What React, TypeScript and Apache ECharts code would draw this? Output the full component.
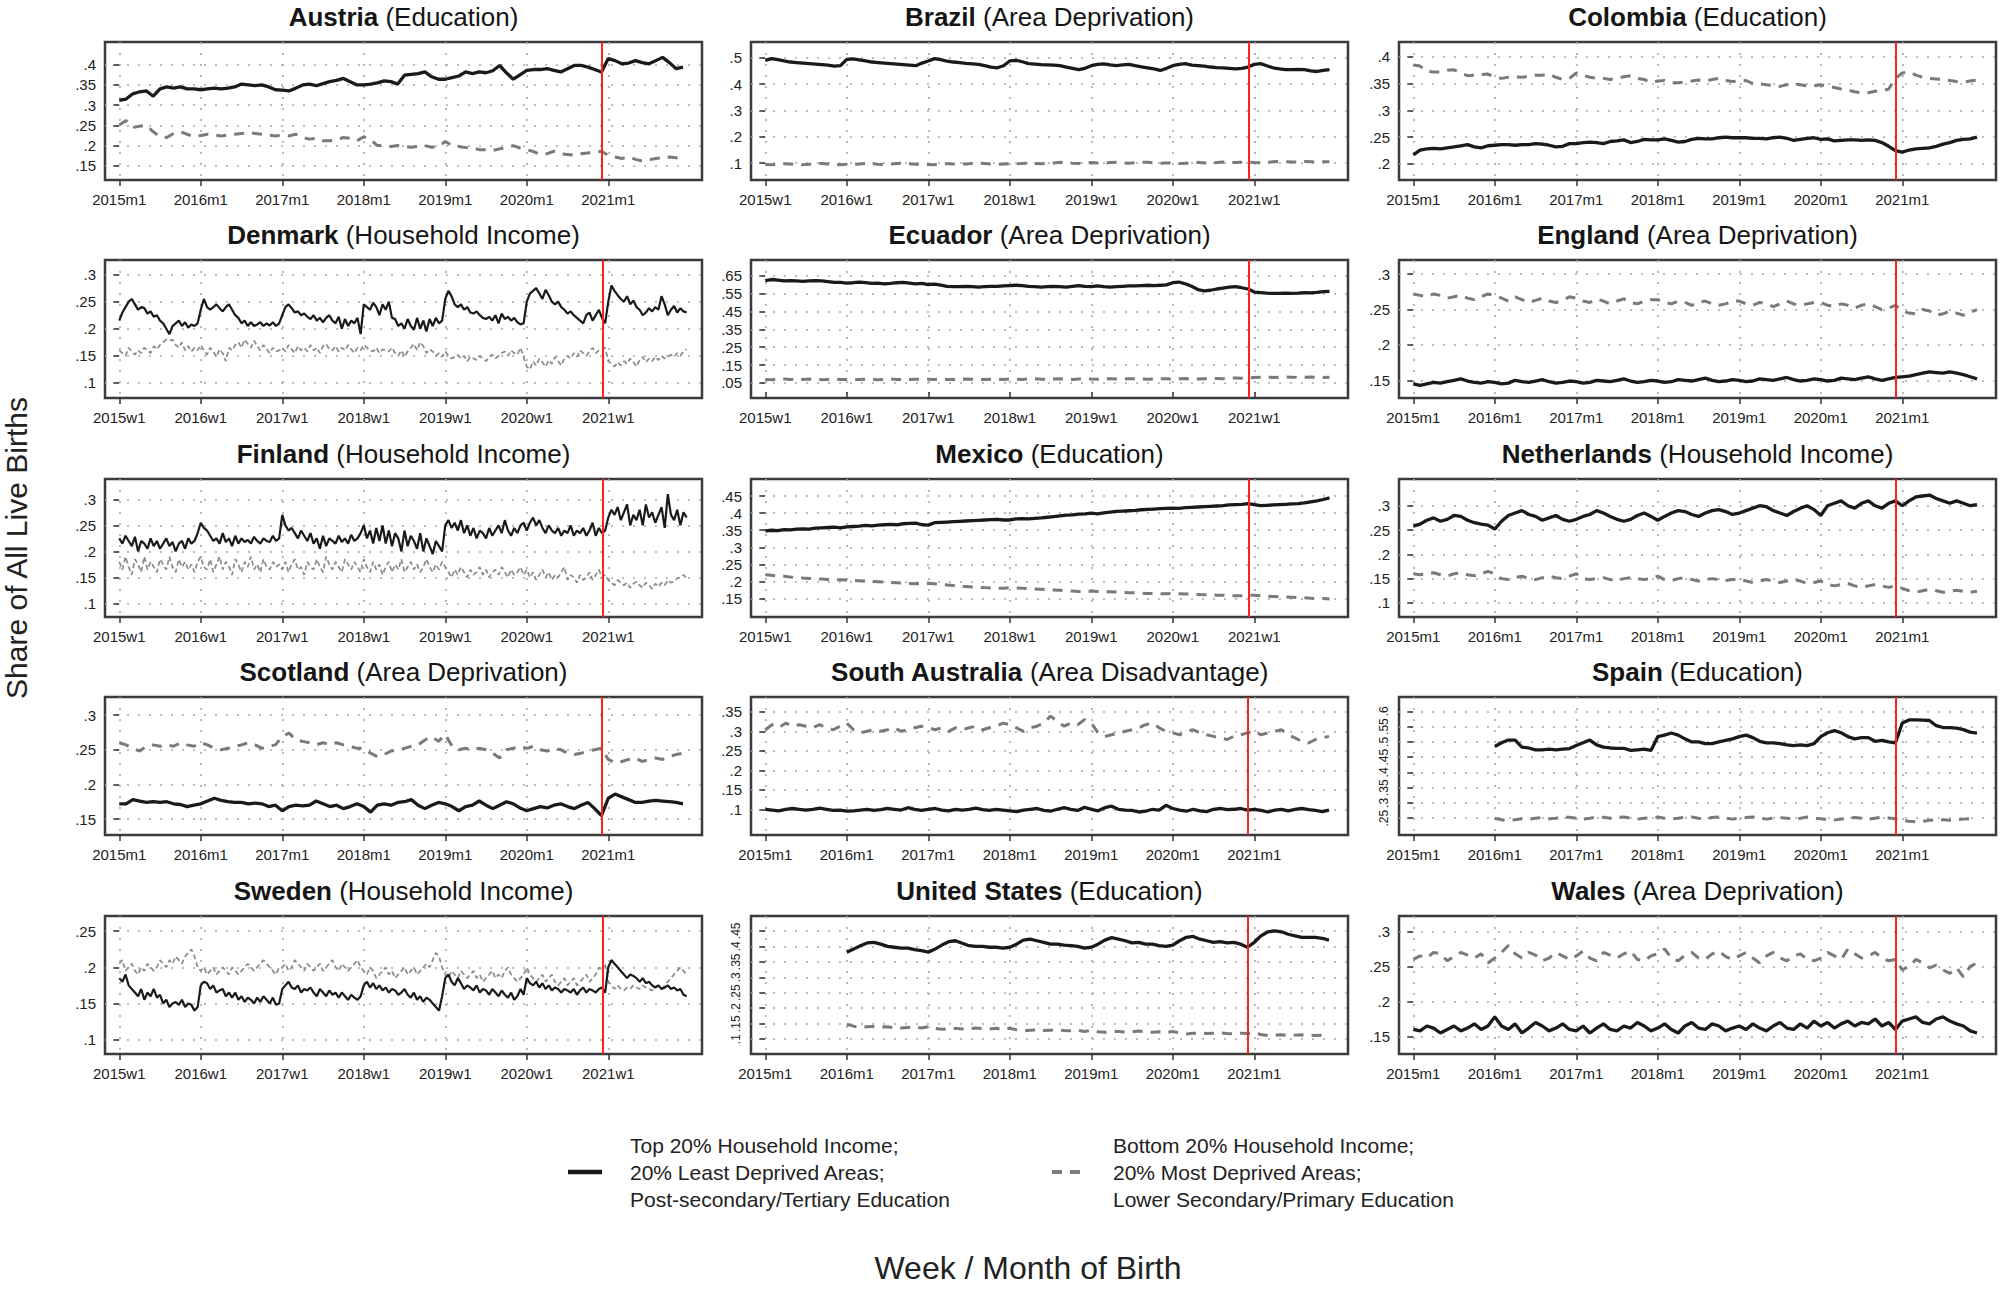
import React, { useEffect, useRef } from "react";
import * as echarts from "echarts";

const FONT = "'Liberation Sans Narrow', 'Liberation Sans', Arial, sans-serif";

// ---------- axis tick labels ----------
const MONTH_TICKS = [0, 12, 24, 36, 48, 60, 72];
const MONTH_LABELS = ["2015m1", "2016m1", "2017m1", "2018m1", "2019m1", "2020m1", "2021m1"];
const WEEK_TICKS = [0, 52, 104, 156, 208, 260, 312];
const WEEK_LABELS = ["2015w1", "2016w1", "2017w1", "2018w1", "2019w1", "2020w1", "2021w1"];

// x positions (months since 2015m1, weeks since 2015w1)
const MONTHS = Array.from({ length: 84 }, (_, i) => i);
const MONTHS_2016 = MONTHS.slice(12);
const WEEKS_4 = Array.from({ length: 91 }, (_, i) => i * 4);
const WEEKS_2 = Array.from({ length: 182 }, (_, i) => i * 2);

const RED_MONTH = 71;
const RED_WEEK = 308.5;

// ---------- series values ----------
const AUT_TOP = [
  .312,.315,.328,.333,.335,.322,.34,.345,.342,.345,.34,.34,
  .338,.34,.342,.34,.342,.345,.352,.35,.348,.35,.345,.338,
  .337,.335,.342,.35,.352,.348,.353,.358,.361,.366,.358,.35,
  .35,.352,.355,.36,.358,.352,.374,.376,.378,.382,.37,.364,
  .364,.368,.372,.382,.378,.382,.38,.385,.398,.38,.364,.375,
  .386,.388,.388,.39,.386,.382,.39,.398,.398,.394,.388,.382,
  .415,.41,.402,.404,.41,.405,.402,.41,.418,.405,.39,.394];
const AUT_BOT = [
  .251,.262,.245,.248,.25,.234,.222,.22,.23,.234,.228,.222,
  .225,.228,.226,.224,.226,.228,.23,.232,.23,.228,.226,.224,
  .226,.224,.228,.22,.216,.218,.212,.212,.214,.22,.218,.212,
  .222,.215,.2,.2,.198,.2,.198,.196,.198,.2,.196,.198,
  .21,.2,.198,.195,.194,.19,.19,.188,.192,.195,.2,.194,
  .19,.185,.178,.18,.186,.18,.178,.176,.18,.182,.184,.186,
  .176,.172,.168,.172,.166,.162,.165,.168,.17,.172,.17,.168];

const BRA_TOP = [
  .49,.497,.493,.488,.484,.482,.48,.478,.476,.474,.472,.468,.47,
  .494,.496,.492,.488,.484,.482,.48,.478,.476,.474,.472,.47,.48,
  .488,.497,.493,.487,.484,.482,.479,.477,.475,.47,.465,.462,.47,
  .488,.49,.485,.478,.476,.474,.473,.472,.47,.465,.46,.455,.46,
  .47,.475,.477,.473,.47,.473,.475,.47,.466,.462,.458,.452,.46,
  .47,.475,.478,.472,.47,.468,.465,.463,.462,.46,.458,.46,.465,
  .475,.478,.47,.462,.458,.455,.455,.456,.455,.45,.448,.452,.455];
const BRA_BOT = [
  .095,.094,.096,.098,.097,.095,.094,.096,.098,.099,.097,.095,.094,
  .096,.095,.097,.099,.098,.096,.095,.097,.099,.1,.098,.096,.095,
  .095,.094,.096,.098,.097,.096,.097,.099,.1,.099,.097,.096,.097,
  .098,.097,.099,.1,.099,.098,.099,.101,.103,.102,.1,.099,.1,
  .102,.101,.1,.102,.103,.101,.1,.102,.104,.103,.101,.1,.101,
  .1,.099,.1,.102,.103,.101,.1,.102,.104,.103,.102,.103,.104,
  .102,.101,.103,.105,.106,.105,.104,.105,.106,.105,.104,.105,.105];

const COL_TOP = [
  .217,.226,.228,.229,.228,.23,.232,.234,.236,.232,.23,.234,
  .235,.236,.236,.235,.236,.236,.238,.237,.235,.232,.233,.238,
  .238,.24,.241,.24,.238,.242,.243,.245,.24,.242,.246,.245,
  .245,.247,.244,.241,.242,.246,.248,.247,.247,.249,.25,.249,
  .249,.249,.248,.248,.247,.249,.25,.248,.244,.246,.248,.249,
  .246,.247,.243,.244,.245,.245,.244,.245,.244,.24,.233,.225,
  .222,.226,.228,.229,.23,.233,.237,.24,.244,.246,.247,.25];
const COL_BOT = [
  .385,.383,.373,.372,.372,.375,.376,.37,.365,.366,.367,.368,
  .362,.36,.362,.363,.362,.364,.366,.366,.368,.362,.358,.36,
  .37,.366,.362,.36,.36,.358,.36,.363,.365,.36,.358,.352,
  .355,.356,.352,.352,.353,.355,.357,.355,.358,.36,.356,.354,
  .355,.356,.35,.35,.348,.347,.345,.348,.35,.348,.346,.346,
  .348,.345,.343,.34,.338,.335,.333,.333,.336,.337,.34,.36,
  .37,.372,.366,.362,.36,.359,.358,.356,.354,.353,.355,.357];

const DNK_TOP = [
  .215,.23,.24,.25,.255,.245,.235,.24,.238,.228,.232,.222,.225,.215,.21,.2,.19,.205,.21,.215,.205,.212,.202,.208,.205,.21,
  .235,.255,.24,.235,.24,.245,.238,.232,.24,.245,.235,.225,.22,.21,.215,.205,.212,.205,.208,.212,.205,.21,.206,.212,.205,.21,
  .225,.24,.245,.238,.23,.232,.225,.228,.222,.218,.225,.215,.22,.212,.22,.225,.215,.21,.222,.2,.218,.205,.215,.21,.22,.19,
  .245,.24,.235,.248,.24,.225,.245,.235,.25,.22,.218,.205,.21,.2,.218,.205,.198,.22,.2,.215,.195,.218,.205,.22,.21,.215,
  .255,.27,.26,.245,.24,.245,.235,.24,.23,.228,.232,.225,.22,.218,.222,.215,.225,.21,.228,.218,.222,.215,.22,.212,.208,.21,
  .25,.265,.27,.275,.265,.255,.272,.262,.25,.245,.25,.24,.235,.228,.232,.225,.22,.215,.21,.225,.23,.215,.225,.235,.22,.21,
  .25,.28,.27,.262,.255,.25,.26,.245,.252,.24,.235,.225,.23,.238,.232,.24,.235,.26,.245,.225,.235,.242,.23,.238,.232,.23];
const DNK_BOT = [
  .16,.155,.15,.165,.158,.152,.16,.155,.165,.16,.155,.168,.162,.17,.175,.18,.178,.18,.17,.165,.175,.16,.168,.158,.165,.16,
  .17,.16,.152,.165,.158,.148,.162,.155,.14,.165,.16,.17,.175,.165,.18,.172,.165,.178,.168,.16,.17,.162,.155,.165,.158,.16,
  .165,.158,.17,.162,.155,.168,.16,.165,.158,.17,.16,.165,.155,.168,.172,.162,.16,.168,.158,.165,.16,.17,.162,.155,.165,.16,
  .17,.165,.16,.158,.165,.155,.162,.16,.158,.165,.155,.15,.16,.148,.158,.165,.172,.16,.175,.168,.155,.162,.158,.15,.155,.148,
  .158,.15,.145,.148,.152,.145,.15,.14,.148,.145,.142,.15,.145,.14,.148,.152,.145,.15,.155,.158,.15,.16,.155,.152,.165,.148,
  .13,.125,.14,.132,.145,.138,.13,.142,.135,.148,.14,.132,.145,.15,.145,.155,.148,.16,.155,.15,.158,.165,.155,.16,.162,.165,
  .14,.135,.13,.138,.132,.14,.135,.145,.138,.13,.142,.148,.138,.145,.14,.148,.142,.15,.145,.148,.152,.148,.155,.15,.158,.162];

const ECU_TOP = [
  .622,.628,.624,.62,.622,.62,.618,.62,.622,.62,.616,.612,.612,
  .608,.61,.614,.61,.606,.608,.604,.606,.61,.612,.608,.604,.606,
  .6,.602,.596,.59,.588,.588,.59,.588,.586,.588,.59,.59,.592,
  .594,.596,.594,.59,.588,.586,.588,.59,.588,.586,.59,.594,.59,
  .588,.592,.588,.586,.588,.59,.592,.592,.594,.596,.594,.596,.598,
  .61,.614,.604,.59,.572,.565,.568,.575,.58,.585,.588,.582,.575,
  .558,.555,.552,.55,.55,.552,.55,.552,.555,.553,.556,.56,.562];
const ECU_BOT = [
  .07,.068,.07,.072,.07,.068,.07,.072,.07,.068,.07,.072,.07,
  .07,.068,.07,.071,.069,.068,.07,.072,.07,.069,.07,.071,.07,
  .071,.07,.072,.07,.069,.07,.072,.071,.07,.069,.071,.072,.07,
  .072,.071,.07,.072,.073,.071,.07,.072,.073,.071,.07,.072,.073,
  .072,.071,.073,.074,.072,.071,.073,.074,.072,.071,.073,.074,.073,
  .072,.074,.075,.073,.072,.074,.076,.075,.074,.076,.078,.077,.078,
  .08,.082,.083,.081,.082,.083,.082,.081,.082,.083,.082,.081,.082];

const ENG_TOP = [
  .145,.143,.145,.147,.146,.148,.15,.152,.149,.147,.146,.148,
  .147,.145,.146,.15,.148,.147,.149,.151,.148,.146,.147,.149,
  .148,.146,.147,.15,.149,.148,.15,.152,.149,.147,.148,.15,
  .149,.147,.148,.151,.15,.149,.151,.153,.15,.148,.149,.151,
  .15,.148,.149,.152,.151,.15,.152,.154,.151,.149,.15,.152,
  .151,.149,.15,.153,.152,.151,.153,.155,.152,.15,.152,.154,
  .155,.156,.158,.16,.162,.161,.16,.162,.16,.158,.155,.152];
const ENG_BOT = [
  .272,.27,.268,.272,.27,.266,.268,.27,.266,.264,.268,.272,
  .27,.266,.262,.268,.264,.26,.263,.266,.262,.26,.263,.268,
  .266,.262,.26,.265,.262,.258,.262,.265,.26,.258,.262,.264,
  .264,.26,.258,.262,.26,.256,.26,.262,.258,.256,.258,.262,
  .262,.258,.256,.26,.258,.254,.258,.262,.258,.256,.258,.26,
  .26,.256,.254,.258,.256,.252,.256,.258,.254,.25,.252,.256,
  .248,.245,.244,.25,.248,.242,.244,.248,.245,.242,.246,.25];

const FIN_TOP = [
  .225,.215,.23,.22,.21,.228,.2,.22,.215,.205,.225,.21,.22,.205,.215,.225,.21,.218,.2,.215,.22,.205,.225,.215,.22,.235,
  .255,.245,.24,.23,.22,.225,.215,.235,.218,.225,.21,.23,.215,.225,.218,.222,.215,.228,.22,.215,.225,.22,.218,.23,.22,.225,
  .27,.25,.24,.245,.235,.225,.24,.23,.22,.235,.215,.225,.205,.23,.21,.225,.22,.215,.23,.218,.225,.215,.232,.22,.225,.235,
  .25,.225,.24,.215,.245,.22,.25,.215,.24,.21,.235,.225,.2,.24,.21,.23,.22,.205,.235,.2,.225,.21,.195,.22,.21,.2,
  .25,.26,.245,.255,.24,.26,.235,.25,.23,.245,.225,.24,.235,.225,.245,.23,.24,.25,.235,.26,.24,.23,.245,.235,.25,.255,
  .24,.255,.265,.25,.26,.245,.235,.25,.24,.235,.245,.23,.24,.235,.25,.23,.24,.235,.245,.23,.24,.255,.23,.245,.235,.24,
  .265,.28,.27,.285,.26,.275,.29,.25,.27,.26,.28,.25,.29,.265,.275,.255,.27,.285,.245,.31,.27,.26,.28,.25,.275,.265];
const FIN_BOT = [
  .18,.165,.19,.17,.155,.185,.175,.16,.19,.165,.18,.17,.16,.185,.175,.165,.19,.17,.16,.185,.17,.18,.165,.175,.16,.18,
  .19,.17,.165,.185,.16,.175,.19,.165,.18,.17,.155,.185,.175,.16,.18,.17,.19,.165,.175,.16,.185,.17,.165,.18,.17,.175,
  .165,.18,.16,.175,.185,.165,.17,.155,.18,.17,.165,.185,.17,.16,.19,.175,.165,.18,.17,.16,.185,.175,.165,.18,.17,.16,
  .185,.17,.16,.18,.165,.175,.155,.17,.18,.16,.175,.165,.185,.16,.17,.18,.165,.175,.16,.17,.185,.17,.16,.175,.165,.18,
  .17,.16,.15,.165,.155,.17,.16,.15,.165,.155,.16,.17,.155,.165,.15,.16,.165,.155,.17,.16,.15,.165,.155,.16,.17,.155,
  .165,.15,.16,.145,.155,.165,.15,.16,.145,.155,.15,.16,.17,.145,.155,.15,.14,.155,.145,.15,.16,.145,.155,.165,.15,.155,
  .145,.14,.135,.145,.14,.135,.14,.13,.138,.142,.135,.13,.14,.135,.128,.138,.132,.14,.135,.145,.14,.142,.148,.15,.155,.148];

const MEX_TOP = [
  .348,.35,.349,.352,.351,.353,.354,.353,.356,.357,.358,.359,.357,
  .36,.361,.362,.364,.363,.365,.366,.367,.366,.369,.37,.371,.366,
  .365,.372,.373,.374,.375,.376,.377,.378,.379,.38,.381,.382,.38,
  .38,.383,.384,.383,.385,.386,.388,.39,.392,.394,.395,.397,.398,
  .4,.398,.401,.403,.405,.406,.407,.408,.41,.411,.412,.413,.414,
  .415,.414,.416,.417,.418,.419,.42,.421,.422,.424,.425,.426,.428,
  .425,.422,.423,.424,.425,.426,.427,.428,.43,.433,.436,.44,.445];
const MEX_BOT = [
  .22,.218,.216,.215,.213,.212,.21,.209,.208,.207,.206,.205,.205,
  .204,.203,.202,.201,.2,.199,.198,.197,.196,.195,.194,.193,.193,
  .194,.193,.192,.19,.188,.186,.185,.184,.183,.182,.181,.18,.18,
  .182,.181,.18,.179,.178,.177,.176,.175,.174,.173,.172,.171,.171,
  .172,.171,.17,.17,.169,.168,.167,.167,.166,.165,.165,.164,.164,
  .165,.164,.163,.163,.162,.161,.161,.16,.16,.159,.158,.158,.16,
  .16,.158,.157,.156,.155,.155,.154,.153,.152,.151,.15,.15,.149];

const NLD_TOP = [
  .258,.262,.27,.275,.268,.272,.28,.278,.27,.265,.262,.26,
  .252,.268,.28,.285,.29,.282,.278,.27,.275,.28,.272,.268,
  .272,.278,.282,.29,.285,.278,.272,.268,.272,.28,.285,.278,
  .27,.278,.285,.29,.288,.282,.278,.285,.29,.292,.288,.282,
  .285,.29,.295,.3,.298,.29,.285,.28,.288,.295,.3,.292,
  .28,.3,.305,.31,.3,.295,.305,.31,.3,.295,.305,.31,
  .3,.31,.318,.32,.322,.315,.31,.305,.31,.305,.3,.302];
const NLD_BOT = [
  .16,.158,.16,.162,.158,.155,.16,.162,.158,.156,.16,.165,
  .16,.15,.148,.152,.155,.15,.148,.152,.155,.152,.15,.155,
  .16,.15,.148,.15,.152,.148,.146,.15,.152,.15,.148,.15,
  .155,.148,.146,.15,.152,.148,.145,.148,.15,.148,.146,.148,
  .15,.145,.142,.145,.148,.145,.142,.145,.148,.145,.14,.142,
  .145,.138,.135,.138,.14,.135,.132,.135,.138,.135,.132,.135,
  .13,.125,.122,.125,.128,.125,.122,.124,.126,.124,.122,.124];

const SCO_TOP = [
  .172,.172,.178,.176,.174,.175,.174,.175,.172,.171,.168,.17,
  .172,.176,.18,.177,.175,.174,.174,.172,.173,.172,.168,.17,
  .162,.168,.17,.169,.17,.176,.172,.168,.17,.165,.168,.172,
  .168,.16,.17,.172,.17,.174,.175,.178,.17,.165,.17,.174,
  .172,.168,.162,.168,.17,.176,.17,.165,.17,.175,.172,.166,
  .162,.165,.168,.166,.17,.172,.168,.165,.17,.174,.165,.155,
  .18,.186,.182,.178,.174,.174,.176,.177,.176,.175,.174,.172];
const SCO_BOT = [
  .26,.257,.252,.248,.255,.257,.255,.257,.255,.26,.257,.255,
  .26,.257,.252,.25,.252,.255,.257,.26,.257,.252,.255,.257,
  .269,.274,.264,.262,.26,.257,.26,.257,.26,.257,.255,.252,
  .252,.245,.24,.243,.248,.25,.252,.255,.257,.264,.269,.262,
  .272,.255,.25,.252,.25,.252,.25,.245,.238,.25,.252,.255,
  .252,.255,.25,.248,.252,.25,.245,.243,.245,.248,.25,.252,
  .236,.231,.233,.236,.238,.233,.236,.238,.236,.24,.243,.245];

const SAU_TOP = [
  .1,.098,.096,.1,.102,.1,.098,.1,.103,.1,.097,.098,
  .095,.096,.098,.1,.097,.099,.102,.1,.098,.104,.1,.097,
  .1,.102,.098,.096,.1,.098,.1,.103,.099,.097,.1,.098,
  .096,.094,.098,.1,.102,.097,.095,.1,.104,.1,.097,.105,
  .1,.096,.104,.108,.1,.098,.097,.093,.095,.1,.098,.11,
  .102,.098,.095,.1,.096,.094,.1,.102,.099,.1,.102,.098,
  .1,.097,.093,.098,.1,.096,.1,.102,.099,.097,.094,.098];
const SAU_BOT = [
  .304,.317,.309,.321,.313,.317,.313,.309,.317,.309,.304,.313,
  .321,.304,.296,.3,.304,.3,.304,.309,.3,.304,.309,.313,
  .309,.304,.309,.3,.309,.304,.309,.313,.304,.309,.313,.321,
  .317,.309,.3,.309,.313,.321,.339,.326,.313,.321,.317,.33,
  .321,.296,.287,.291,.296,.3,.304,.309,.317,.321,.309,.3,
  .296,.291,.3,.304,.296,.291,.287,.283,.279,.287,.291,.296,
  .3,.291,.296,.3,.304,.291,.283,.274,.27,.279,.283,.287];

const ESP_TOP = [
  .485,.497,.506,.506,.483,.48,.474,.474,.476,.474,.476,.478,
  .488,.497,.506,.49,.483,.48,.479,.479,.472,.474,.476,.472,
  .517,.522,.529,.522,.51,.5,.5,.494,.494,.5,.505,.51,
  .517,.522,.514,.502,.497,.497,.494,.49,.488,.49,.488,.494,
  .517,.53,.537,.53,.517,.51,.514,.514,.502,.505,.5,.497,
  .562,.572,.572,.571,.57,.553,.547,.547,.545,.54,.532,.529];
const ESP_BOT = [
  .25,.245,.242,.245,.248,.247,.25,.252,.248,.25,.254,.253,
  .25,.247,.25,.254,.253,.25,.252,.254,.25,.247,.25,.252,
  .254,.25,.248,.25,.253,.254,.25,.248,.252,.254,.25,.247,
  .25,.252,.254,.25,.247,.25,.252,.25,.248,.25,.254,.25,
  .248,.245,.244,.247,.25,.252,.25,.247,.25,.253,.251,.248,
  .243,.24,.238,.24,.243,.245,.245,.243,.245,.247,.248,.248];

const SWE_TOP = [
  .185,.18,.19,.175,.17,.165,.16,.17,.155,.165,.16,.17,.158,.162,.15,.155,.145,.15,.152,.148,.155,.145,.15,.148,.14,.145,
  .175,.18,.178,.17,.175,.165,.168,.17,.16,.165,.158,.165,.155,.16,.152,.158,.155,.15,.158,.152,.16,.155,.15,.158,.148,.15,
  .17,.175,.18,.172,.17,.175,.165,.17,.168,.172,.165,.16,.17,.165,.16,.168,.162,.165,.158,.165,.16,.155,.162,.158,.155,.16,
  .175,.18,.172,.178,.17,.175,.168,.172,.165,.17,.168,.162,.165,.17,.162,.158,.165,.155,.16,.152,.158,.155,.15,.145,.14,.16,
  .185,.19,.18,.175,.185,.178,.17,.175,.172,.168,.175,.165,.17,.168,.162,.17,.165,.16,.168,.162,.158,.165,.155,.16,.17,.162,
  .185,.178,.175,.18,.172,.178,.17,.175,.168,.172,.17,.165,.17,.168,.165,.17,.162,.168,.172,.165,.17,.168,.165,.17,.172,.165,
  .2,.21,.205,.2,.195,.19,.185,.19,.188,.185,.18,.185,.178,.18,.175,.172,.175,.17,.172,.175,.17,.172,.168,.17,.162,.16];
const SWE_BOT = [
  .205,.21,.195,.2,.205,.195,.19,.2,.195,.205,.2,.195,.2,.21,.205,.2,.21,.205,.215,.21,.205,.215,.22,.225,.215,.2,
  .195,.2,.19,.195,.2,.19,.195,.2,.195,.19,.2,.195,.19,.195,.2,.205,.2,.195,.2,.205,.21,.205,.2,.195,.19,.2,
  .2,.205,.195,.2,.21,.205,.2,.195,.205,.2,.195,.2,.205,.195,.2,.205,.21,.2,.195,.205,.2,.195,.2,.205,.21,.2,
  .195,.19,.2,.195,.185,.19,.195,.2,.19,.195,.185,.19,.195,.2,.19,.195,.2,.19,.195,.2,.205,.2,.21,.22,.215,.2,
  .19,.185,.195,.19,.185,.195,.19,.185,.19,.195,.185,.19,.18,.185,.19,.195,.185,.19,.185,.195,.2,.19,.185,.18,.185,.19,
  .2,.19,.185,.18,.185,.19,.18,.185,.19,.18,.175,.18,.185,.175,.18,.185,.175,.18,.185,.19,.18,.185,.19,.2,.195,.205,
  .18,.175,.17,.175,.17,.168,.172,.17,.175,.172,.17,.175,.172,.17,.168,.172,.175,.17,.175,.18,.185,.19,.195,.2,.195,.19];

const USA_TOP = [
  .381,.391,.402,.411,.413,.407,.4,.397,.394,.394,.389,.386,
  .381,.391,.404,.415,.418,.41,.402,.4,.4,.397,.397,.394,
  .397,.407,.42,.423,.418,.413,.407,.407,.404,.402,.4,.394,
  .397,.407,.42,.428,.423,.418,.411,.413,.407,.407,.402,.4,
  .404,.418,.429,.432,.423,.418,.413,.415,.411,.413,.407,.397,
  .413,.434,.447,.45,.447,.439,.434,.429,.429,.429,.426,.42];
const USA_BOT = [
  .148,.142,.138,.14,.141,.139,.14,.137,.136,.138,.14,.136,
  .14,.135,.132,.134,.135,.133,.134,.136,.134,.133,.135,.131,
  .135,.13,.127,.129,.13,.128,.129,.13,.128,.127,.129,.125,
  .128,.124,.122,.124,.125,.123,.124,.126,.124,.122,.124,.121,
  .125,.12,.117,.119,.12,.118,.119,.12,.118,.117,.119,.118,
  .12,.115,.112,.113,.114,.112,.113,.114,.113,.112,.113,.114];

const WAL_TOP = [
  .16,.158,.165,.162,.155,.16,.165,.158,.162,.168,.16,.165,
  .178,.165,.16,.168,.155,.162,.17,.165,.158,.162,.168,.16,
  .158,.165,.155,.162,.168,.16,.158,.165,.162,.17,.165,.158,
  .162,.168,.16,.155,.165,.17,.162,.16,.168,.165,.158,.162,
  .165,.16,.168,.162,.158,.165,.17,.162,.16,.168,.162,.172,
  .165,.17,.162,.168,.172,.165,.17,.168,.175,.165,.17,.16,
  .172,.175,.178,.17,.168,.175,.178,.172,.168,.165,.158,.155];
const WAL_BOT = [
  .26,.265,.262,.27,.268,.258,.264,.27,.266,.262,.268,.255,
  .262,.27,.28,.268,.262,.27,.266,.258,.262,.27,.265,.26,
  .265,.272,.262,.258,.27,.266,.262,.268,.272,.26,.258,.265,
  .268,.275,.262,.258,.266,.27,.262,.26,.268,.272,.264,.26,
  .265,.27,.262,.255,.265,.27,.262,.258,.265,.268,.26,.258,
  .262,.27,.265,.26,.275,.268,.262,.265,.27,.262,.258,.26,
  .245,.25,.26,.255,.248,.252,.245,.24,.248,.235,.25,.255];

// ---------- panels ----------
const PANELS = [
  { country: "Austria", dim: "Education", freq: "m", noisy: false, yMin: .115, yMax: .456, yTicks: [.15, .2, .25, .3, .35, .4], x: MONTHS, top: AUT_TOP, bot: AUT_BOT },
  { country: "Brazil", dim: "Area Deprivation", freq: "w", noisy: false, yMin: .036, yMax: .56, yTicks: [.1, .2, .3, .4, .5], x: WEEKS_4, top: BRA_TOP, bot: BRA_BOT },
  { country: "Colombia", dim: "Education", freq: "m", noisy: false, yMin: .17, yMax: .428, yTicks: [.2, .25, .3, .35, .4], x: MONTHS, top: COL_TOP, bot: COL_BOT },
  { country: "Denmark", dim: "Household Income", freq: "w", noisy: true, yMin: .072, yMax: .327, yTicks: [.1, .15, .2, .25, .3], x: WEEKS_2, top: DNK_TOP, bot: DNK_BOT },
  { country: "Ecuador", dim: "Area Deprivation", freq: "w", noisy: false, yMin: -.034, yMax: .737, yTicks: [.05, .15, .25, .35, .45, .55, .65], x: WEEKS_4, top: ECU_TOP, bot: ECU_BOT },
  { country: "England", dim: "Area Deprivation", freq: "m", noisy: false, yMin: .125, yMax: .32, yTicks: [.15, .2, .25, .3], x: MONTHS, top: ENG_TOP, bot: ENG_BOT },
  { country: "Finland", dim: "Household Income", freq: "w", noisy: true, yMin: .074, yMax: .339, yTicks: [.1, .15, .2, .25, .3], x: WEEKS_2, top: FIN_TOP, bot: FIN_BOT },
  { country: "Mexico", dim: "Education", freq: "w", noisy: false, yMin: .096, yMax: .50, yTicks: [.15, .2, .25, .3, .35, .4, .45], x: WEEKS_4, top: MEX_TOP, bot: MEX_BOT },
  { country: "Netherlands", dim: "Household Income", freq: "m", noisy: false, yMin: .071, yMax: .355, yTicks: [.1, .15, .2, .25, .3], x: MONTHS, top: NLD_TOP, bot: NLD_BOT },
  { country: "Scotland", dim: "Area Deprivation", freq: "m", noisy: false, yMin: .127, yMax: .326, yTicks: [.15, .2, .25, .3], x: MONTHS, top: SCO_TOP, bot: SCO_BOT },
  { country: "South Australia", dim: "Area Disadvantage", freq: "m", noisy: false, yMin: .034, yMax: .388, yTicks: [.1, .15, .2, .25, .3, .35], x: MONTHS, top: SAU_TOP, bot: SAU_BOT },
  { country: "Spain", dim: "Education", freq: "m", noisy: false, rotate: true, yMin: .195, yMax: .647, yTicks: [.25, .3, .35, .4, .45, .5, .55, .6], x: MONTHS_2016, top: ESP_TOP, bot: ESP_BOT },
  { country: "Sweden", dim: "Household Income", freq: "w", noisy: true, yMin: .08, yMax: .271, yTicks: [.1, .15, .2, .25], x: WEEKS_2, top: SWE_TOP, bot: SWE_BOT },
  { country: "United States", dim: "Education", freq: "m", noisy: false, rotate: true, yMin: .052, yMax: .498, yTicks: [.1, .15, .2, .25, .3, .35, .4, .45], x: MONTHS_2016, top: USA_TOP, bot: USA_BOT },
  { country: "Wales", dim: "Area Deprivation", freq: "m", noisy: false, yMin: .125, yMax: .322, yTicks: [.15, .2, .25, .3], x: MONTHS, top: WAL_TOP, bot: WAL_BOT },
];

const LEGEND_TOP = ["Top 20% Household Income;", "20% Least Deprived Areas;", "Post-secondary/Tertiary Education"];
const LEGEND_BOT = ["Bottom 20% Household Income;", "20% Most Deprived Areas;", "Lower Secondary/Primary Education"];

// ---------- layout ----------
const COL_LEFT = [105, 751, 1399];
const ROW_TOP = [42, 260, 479, 697, 916];
const GRID_W = 597;
const GRID_H = 138;

const fmtY = (v: number) => {
  const s = String(Math.round(v * 1000) / 1000);
  return s.replace(/^0\./, ".").replace(/^-0\./, "-.");
};

function buildOption() {
  const grid: any[] = [];
  const xAxis: any[] = [];
  const yAxis: any[] = [];
  const series: any[] = [];
  const graphic: any[] = [];

  PANELS.forEach((p: any, i) => {
    const col = i % 3;
    const row = Math.floor(i / 3);
    const weekly = p.freq === "w";
    const ticks = weekly ? WEEK_TICKS : MONTH_TICKS;
    const labels = weekly ? WEEK_LABELS : MONTH_LABELS;
    grid.push({
      left: COL_LEFT[col], top: ROW_TOP[row], width: GRID_W, height: GRID_H,
      show: true, borderColor: "#3b3b3b", borderWidth: 2.5, backgroundColor: "#ffffff",
    });
    xAxis.push({
      type: "value", gridIndex: i,
      min: weekly ? -9.1 : -2.1, max: weekly ? 371.8 : 85.8,
      axisLine: { show: false },
      axisTick: { show: true, length: 6, customValues: ticks, lineStyle: { color: "#333", width: 1.5 } },
      axisLabel: {
        customValues: ticks, margin: 12, fontSize: 15, color: "#222", fontFamily: FONT,
        formatter: (v: number) => labels[ticks.indexOf(Math.round(v))] ?? "",
      },
      splitLine: { show: true, lineStyle: { type: [2, 9], color: "#a8a8a8", width: 1.6 } },
    });
    yAxis.push({
      type: "value", gridIndex: i, min: p.yMin, max: p.yMax,
      axisLine: { show: false },
      axisTick: { show: true, length: 6, customValues: p.yTicks, lineStyle: { color: "#333", width: 1.5 } },
      axisLabel: {
        customValues: p.yTicks, margin: 9, fontSize: p.rotate ? 12 : 15, color: "#222", fontFamily: FONT,
        rotate: p.rotate ? 90 : 0, hideOverlap: false, showMinLabel: true, showMaxLabel: true,
        formatter: (v: number) => fmtY(v),
      },
      splitLine: { show: true, lineStyle: { type: [2, 9], color: "#a8a8a8", width: 1.6 } },
    });
    const n = Math.min(p.x.length, p.top.length);
    const topData = p.top.slice(0, n).map((v: number, k: number) => [p.x[k], v]);
    const m = Math.min(p.x.length, p.bot.length);
    const botData = p.bot.slice(0, m).map((v: number, k: number) => [p.x[k], v]);
    series.push({
      type: "line", name: LEGEND_BOT.join(" "), xAxisIndex: i, yAxisIndex: i, data: botData,
      showSymbol: false, symbol: "none", z: 2,
      lineStyle: p.noisy
        ? { color: "#8a8a8a", width: 1.7, type: [5, 3] }
        : { color: "#7a7a7a", width: 3, type: [10, 8] },
    });
    series.push({
      type: "line", name: LEGEND_TOP.join(" "), xAxisIndex: i, yAxisIndex: i, data: topData,
      showSymbol: false, symbol: "none", z: 3,
      lineStyle: { color: "#1a1a1a", width: p.noisy ? 2.2 : 3.3 },
      markLine: {
        silent: true, symbol: ["none", "none"], label: { show: false },
        lineStyle: { color: "#ff2020", width: 2, type: "solid" },
        data: [{ xAxis: weekly ? RED_WEEK : RED_MONTH }],
      },
    });
    graphic.push({
      type: "text", x: COL_LEFT[col] + GRID_W / 2, y: ROW_TOP[row] - 25,
      style: {
        text: `{b|${p.country}} (${p.dim})`, align: "center", verticalAlign: "middle",
        fontSize: 26, fontFamily: FONT, fill: "#151515",
        rich: { b: { fontSize: 26, fontFamily: FONT, fontWeight: "bold", fill: "#151515" } },
      },
    });
  });

  // axis titles
  graphic.push({
    type: "text", x: 16, y: 548, rotation: Math.PI / 2,
    style: { text: "Share of All Live Births", align: "center", verticalAlign: "middle", fontSize: 30, fontFamily: FONT, fill: "#222" },
  });
  graphic.push({
    type: "text", x: 1028, y: 1268,
    style: { text: "Week / Month of Birth", align: "center", verticalAlign: "middle", fontSize: 32, fontFamily: FONT, fill: "#222" },
  });
  // legend
  graphic.push({ type: "line", shape: { x1: 568, y1: 1172, x2: 602, y2: 1172 }, style: { stroke: "#1a1a1a", lineWidth: 4.5 } });
  graphic.push({
    type: "text", x: 630, y: 1172,
    style: { text: LEGEND_TOP.join("\n"), align: "left", verticalAlign: "middle", fontSize: 21, lineHeight: 27, fontFamily: FONT, fill: "#222" },
  });
  graphic.push({ type: "line", shape: { x1: 1052, y1: 1172, x2: 1086, y2: 1172 }, style: { stroke: "#7d7d7d", lineWidth: 4, lineDash: [10, 8] } });
  graphic.push({
    type: "text", x: 1113, y: 1172,
    style: { text: LEGEND_BOT.join("\n"), align: "left", verticalAlign: "middle", fontSize: 21, lineHeight: 27, fontFamily: FONT, fill: "#222" },
  });

  return {
    animation: false,
    backgroundColor: "#ffffff",
    textStyle: { fontFamily: FONT },
    grid, xAxis, yAxis, series, graphic,
  };
}

export default function App() {
  const ref = useRef<HTMLDivElement>(null);
  useEffect(() => {
    if (!ref.current) return;
    const chart = echarts.init(ref.current, undefined, { renderer: "svg" });
    chart.setOption(buildOption() as any);
    return () => chart.dispose();
  }, []);
  return (
    <div
      ref={ref}
      style={{ position: "fixed", left: 0, top: 0, width: 2000, height: 1293, background: "#fff" }}
    />
  );
}
